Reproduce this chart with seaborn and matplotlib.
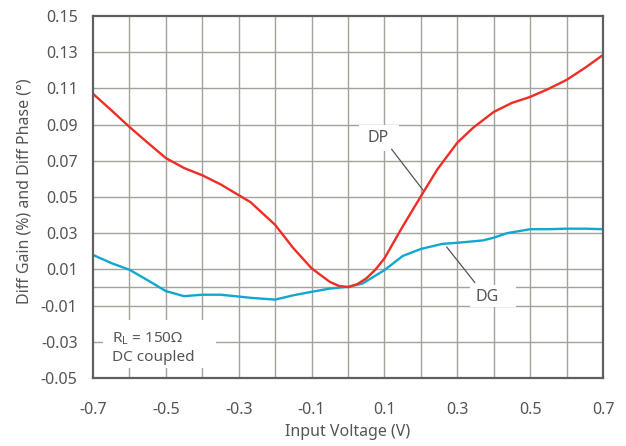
import numpy as np
import pandas as pd
import matplotlib
matplotlib.use("Agg")
import matplotlib.pyplot as plt
import matplotlib.patches as mpatches
import seaborn as sns

# DP (diff phase, deg)
dp_x = [-0.7, -0.65, -0.6, -0.55, -0.5, -0.45, -0.4, -0.35, -0.3, -0.268, -0.2, -0.15,
        -0.1, -0.05, -0.025, 0.0, 0.025, 0.05, 0.075, 0.1, 0.15, 0.2, 0.245, 0.3, 0.343,
        0.4, 0.45, 0.5, 0.55, 0.6, 0.65, 0.7]
dp_y = [0.107, 0.098, 0.0887, 0.080, 0.0715, 0.066, 0.062, 0.057, 0.051, 0.0472, 0.0346, 0.0217,
        0.0106, 0.0031, 0.0009, 0.0002, 0.0018, 0.005, 0.0098, 0.0161, 0.0337, 0.0504, 0.0652, 0.080, 0.0882,
        0.097, 0.102, 0.1053, 0.1097, 0.1147, 0.1213, 0.1285]

# DG (diff gain, %)
dg_x = [-0.7, -0.65, -0.6, -0.55, -0.5, -0.45, -0.4, -0.35, -0.3, -0.268, -0.2, -0.15,
        -0.1, -0.05, 0.0, 0.04, 0.1, 0.15, 0.2, 0.259, 0.3, 0.37, 0.4, 0.436, 0.5,
        0.55, 0.6, 0.65, 0.7]
dg_y = [0.018, 0.0135, 0.0098, 0.004, -0.002, -0.0048, -0.004, -0.004, -0.005, -0.0057, -0.0067, -0.0043,
        -0.0024, -0.0006, 0.0004, 0.0022, 0.0096, 0.0174, 0.0213, 0.0241, 0.0247, 0.026, 0.0275, 0.030, 0.0322,
        0.0322, 0.0325, 0.0325, 0.0322]

x_ticks = [-0.7, -0.5, -0.3, -0.1, 0.1, 0.3, 0.5, 0.7]
y_ticks = [-0.05, -0.03, -0.01, 0.01, 0.03, 0.05, 0.07, 0.09, 0.11, 0.13, 0.15]

sns.set_style("white")
plt.rcParams['font.family'] = ['Noto Sans', 'DejaVu Sans']

text_col = '#555555'
grid_col = '#a3a39c'

df_dp = pd.DataFrame({'v': dp_x, 'val': dp_y})
df_dg = pd.DataFrame({'v': dg_x, 'val': dg_y})

fig = plt.figure(figsize=(6.26, 4.46), dpi=100)
ax = fig.add_axes([0.1486, 0.1525, 0.8147, 0.8116])

# grid: verticals every 0.1, horizontals at labels plus zero
for gx in np.arange(-0.6, 0.65, 0.1):
    ax.axvline(gx, color=grid_col, lw=1.0, zorder=0)
for gy in y_ticks[1:-1] + [0.0]:
    ax.axhline(gy, color=grid_col, lw=1.0, zorder=0)

sns.lineplot(data=df_dg, x='v', y='val', ax=ax, color='#12a7cf', lw=1.7, zorder=3)
sns.lineplot(data=df_dp, x='v', y='val', ax=ax, color='#ee2d24', lw=1.7, zorder=4)

ax.set_xlim(-0.7, 0.7)
ax.set_ylim(-0.05, 0.15)
ax.set_xticks(x_ticks)
ax.set_xticklabels(['%.1f' % t for t in x_ticks])
ax.set_yticks(y_ticks)
ax.set_yticklabels(['%.2f' % t for t in y_ticks])
ax.tick_params(axis='x', length=0, pad=17, labelsize=11.5, colors=text_col)
ax.tick_params(axis='y', length=0, pad=11, labelsize=11.5, colors=text_col)

for s in ax.spines.values():
    s.set_color('#5f5f5f')
    s.set_linewidth(1.6)
    s.set_zorder(5)

ax.set_xlabel('Input Voltage (V)', fontsize=11.5, color=text_col)
ax.set_ylabel('Diff Gain (%) and Diff Phase (°)', fontsize=11.5, color=text_col)
ax.xaxis.set_label_coords(0.5, -0.127)
ax.yaxis.set_label_coords(-0.118, 0.517)

# DP label
ax.add_patch(mpatches.Rectangle((0.522, 0.627), 0.077, 0.073, transform=ax.transAxes,
                                facecolor='white', edgecolor='none', zorder=1))
ax.text(0.56, 0.664, 'DP', transform=ax.transAxes, ha='center', va='center',
        fontsize=11.5, color=text_col, zorder=2)
ax.annotate('', xy=(0.211, 0.0525), xytext=(0.115, 0.0776),
            arrowprops=dict(arrowstyle='-', color='#555555', lw=0.9), zorder=2)

# DG label
ax.add_patch(mpatches.Rectangle((0.739, 0.196), 0.09, 0.061, transform=ax.transAxes,
                                facecolor='white', edgecolor='none', zorder=1))
ax.text(0.772, 0.224, 'DG', transform=ax.transAxes, ha='center', va='center',
        fontsize=11.5, color=text_col, zorder=2)
ax.annotate('', xy=(0.266, 0.0236), xytext=(0.353, 0.0015),
            arrowprops=dict(arrowstyle='-', color='#555555', lw=0.9), zorder=2)

# conditions box
ax.add_patch(mpatches.Rectangle((0.02, 0.028), 0.221, 0.133, transform=ax.transAxes,
                                facecolor='white', edgecolor='none', zorder=1))
ax.text(0.038, 0.11, r'R$_\mathregular{L}$ = 150Ω', transform=ax.transAxes, ha='left',
        va='center', fontsize=11, color=text_col, zorder=2)
ax.text(0.038, 0.057, 'DC coupled', transform=ax.transAxes, ha='left',
        va='center', fontsize=11, color=text_col, zorder=2)

fig.savefig('out.png', dpi=100)
